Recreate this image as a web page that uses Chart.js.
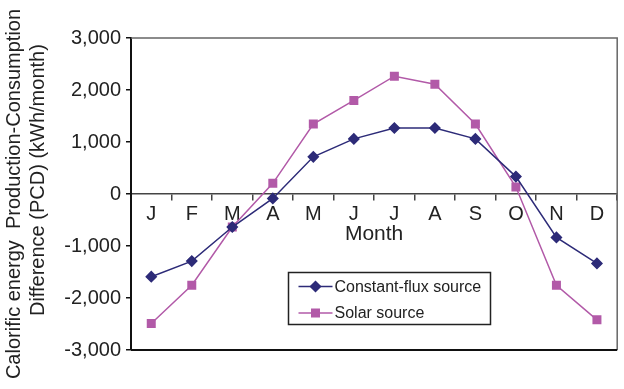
<!DOCTYPE html>
<html>
<head>
<meta charset="utf-8">
<script src="https://cdn.jsdelivr.net/npm/chart.js@4"></script>
<style>
  body { margin: 0; background: #fff; }
  #wrap { width: 624px; height: 389px; position: relative; }
</style>
</head>
<body>
<div id="wrap"><canvas id="pcdChart"></canvas></div>
<script>
// Monthly PCD values (kWh/month)
const months = ["J", "F", "M", "A", "M", "J", "J", "A", "S", "O", "N", "D"];
const constantFlux = [-1590, -1290, -635, -85, 715, 1060, 1270, 1270, 1060, 335, -835, -1335];
const solarSource = [-2490, -1755, -635, 205, 1345, 1800, 2265, 2110, 1345, 135, -1755, -2420];
const yTicks = [-3000, -2000, -1000, 0, 1000, 2000, 3000];

const FONT = "'Liberation Sans', Arial, Helvetica, sans-serif";
const NAVY = "#2d2b78";
const PINK = "#b25aa8";

// plot frame: grey top/right edges, dark bottom edge (left edge is the y axis)
const framePlugin = {
  id: "frame",
  beforeDatasetsDraw(chart) {
    const { ctx, chartArea: a } = chart;
    ctx.save();
    ctx.strokeStyle = "#666";
    ctx.lineWidth = 1.5;
    ctx.beginPath();
    ctx.moveTo(a.left, a.top);
    ctx.lineTo(a.right, a.top);
    ctx.lineTo(a.right, a.bottom);
    ctx.stroke();
    ctx.strokeStyle = "#111";
    ctx.lineWidth = 2;
    ctx.beginPath();
    ctx.moveTo(a.left, a.bottom);
    ctx.lineTo(a.right, a.bottom);
    ctx.stroke();
    ctx.restore();
  },
};

// boxed legend sitting inside the plot, like the Excel original
const boxLegend = {
  id: "boxLegend",
  afterDraw(chart) {
    const { ctx } = chart;
    const box = { x: 288.5, y: 272.5, w: 202, h: 52 };
    ctx.save();
    ctx.fillStyle = "#fff";
    ctx.fillRect(box.x, box.y, box.w, box.h);
    ctx.strokeStyle = "#222";
    ctx.lineWidth = 1.5;
    ctx.strokeRect(box.x, box.y, box.w, box.h);
    chart.data.datasets.forEach((ds, i) => {
      const y = box.y + 14 + i * 26.5;
      ctx.strokeStyle = ds.borderColor;
      ctx.lineWidth = 1.5;
      ctx.beginPath();
      ctx.moveTo(box.x + 10, y);
      ctx.lineTo(box.x + 44, y);
      ctx.stroke();
      ctx.fillStyle = ds.pointBackgroundColor;
      ctx.strokeStyle = ds.pointBorderColor;
      Chart.helpers.drawPoint(ctx, { pointStyle: ds.pointStyle, radius: ds.pointRadius, rotation: 0, borderWidth: 1 }, box.x + 27, y);
      ctx.fillStyle = "#222";
      ctx.font = "16px " + FONT;
      ctx.textBaseline = "middle";
      ctx.fillText(ds.label, box.x + 46, y + 1);
    });
    ctx.restore();
  },
};

new Chart(document.getElementById("pcdChart"), {
  type: "line",
  data: {
    labels: months,
    datasets: [
      {
        label: "Constant-flux source",
        data: constantFlux,
        borderColor: NAVY,
        borderWidth: 1.5,
        pointStyle: "rectRot",
        pointRadius: 5,
        pointBackgroundColor: NAVY,
        pointBorderColor: NAVY,
        tension: 0,
      },
      {
        label: "Solar source",
        data: solarSource,
        borderColor: PINK,
        borderWidth: 1.5,
        pointStyle: "rect",
        pointRadius: 5.3,
        pointBackgroundColor: PINK,
        pointBorderColor: PINK,
        tension: 0,
      },
    ],
  },
  options: {
    responsive: true,
    maintainAspectRatio: false,
    animation: false,
    layout: { padding: { top: 38, right: 5, bottom: 39, left: 0 } },
    plugins: { legend: { display: false }, tooltip: { enabled: false } },
    scales: {
      x: {
        type: "category",
        position: { y: 0 },
        offset: true,
        grid: { offset: true, drawOnChartArea: false, tickLength: 6, color: "#444", lineWidth: 1.5 },
        border: { color: "#444", width: 1.5 },
        ticks: { color: "#222", font: { family: FONT, size: 20 }, padding: 2, maxRotation: 0, autoSkip: false },
        title: { display: true, text: "Month", color: "#222", font: { family: FONT, size: 21 }, padding: { top: -6, bottom: 0 } },
      },
      y: {
        min: -3000,
        max: 3000,
        afterBuildTicks(scale) {
          scale.ticks = yTicks.map((v) => ({ value: v }));
        },
        afterFit(scale) {
          scale.width = 131;
        },
        grid: { drawOnChartArea: false, tickLength: 5, color: "#111", lineWidth: 1.5 },
        border: { color: "#111", width: 2 },
        ticks: {
          color: "#222",
          font: { family: FONT, size: 20 },
          padding: 5,
          callback: (v) => v.toLocaleString("en-US"),
        },
        title: {
          display: true,
          text: ["Calorific energy  Production-Consumption", "     Difference (PCD) (kWh/month)"],
          color: "#222",
          font: { family: FONT, size: 20, lineHeight: 1.2 },
          padding: { top: 2, bottom: 0 },
        },
      },
    },
  },
  plugins: [framePlugin, boxLegend],
});
</script>
</body>
</html>
